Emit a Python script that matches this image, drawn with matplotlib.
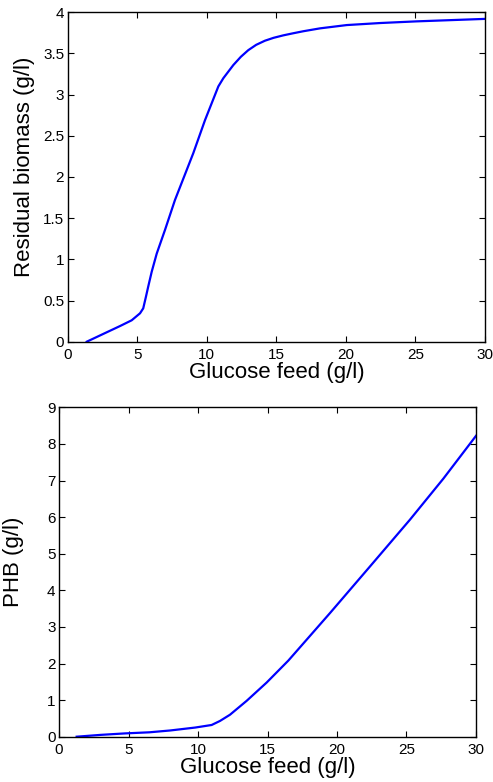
import numpy as np
import matplotlib.pyplot as plt

plt.rcParams['font.family'] = ['Liberation Sans', 'DejaVu Sans']

# residual biomass vs glucose feed
glc_top = [1.37, 2.5, 3.76, 4.6, 5.2, 5.43, 5.63, 5.79, 6.04, 6.4, 7.0, 7.71,
           9.03, 9.87, 10.83, 11.19, 11.91, 12.45, 12.98, 13.55, 14.18, 14.8,
           15.5, 16.2, 16.94, 18.14, 20.06, 22.5, 25.09, 30.0]
biomass = [0.0, 0.09, 0.19, 0.26, 0.345, 0.405, 0.55, 0.67, 0.85, 1.07, 1.36, 1.72,
           2.29, 2.69, 3.10, 3.20, 3.36, 3.46, 3.54, 3.605, 3.655, 3.69,
           3.72, 3.745, 3.77, 3.805, 3.845, 3.87, 3.89, 3.92]

# PHB vs glucose feed
glc_bot = [1.27, 3.0, 4.75, 6.5, 8.0, 9.8, 10.98, 11.58, 12.3, 13.5, 14.94,
           16.5, 19.5, 22.37, 25.25, 27.65, 30.0]
phb = [0.0, 0.05, 0.09, 0.12, 0.17, 0.25, 0.32, 0.43, 0.6, 0.98, 1.48,
       2.08, 3.38, 4.65, 5.93, 7.05, 8.22]

fig = plt.figure(figsize=(4.93, 7.82), dpi=100)
W, H = 493, 782

ax1 = fig.add_axes([67.7 / W, 1 - 341.7 / H, (485 - 67.7) / W, (341.7 - 12.3) / H])
ax2 = fig.add_axes([59 / W, 1 - 736.7 / H, (476 - 59) / W, (736.7 - 407.3) / H])

ax1.plot(glc_top, biomass, color='#0000ff', lw=1.6)
ax1.set_xlim(0, 30)
ax1.set_ylim(0, 4)
ax1.set_xticks(np.arange(0, 31, 5))
ax1.set_yticks(np.arange(0, 4.01, 0.5))
ax1.set_yticklabels(['0', '0.5', '1', '1.5', '2', '2.5', '3', '3.5', '4'])
ax1.set_xlabel('Glucose feed (g/l)', fontsize=16)
ax1.set_ylabel('Residual biomass (g/l)', fontsize=16)

ax2.plot(glc_bot, phb, color='#0000ff', lw=1.6)
ax2.set_xlim(0, 30)
ax2.set_ylim(0, 9)
ax2.set_xticks(np.arange(0, 31, 5))
ax2.set_yticks(np.arange(0, 10, 1))
ax2.set_xlabel('Glucose feed (g/l)', fontsize=16)
ax2.set_ylabel('PHB (g/l)', fontsize=16)

for ax in (ax1, ax2):
    ax.tick_params(direction='in', top=True, right=True, length=4, width=0.8,
                   labelsize=11)
    ax.tick_params(axis='x', pad=4.5)
    ax.tick_params(axis='y', pad=2.5)
    ax.xaxis.set_label_coords(0.5, -0.062)
    for s in ax.spines.values():
        s.set_linewidth(1.0)

ax1.yaxis.set_label_coords(-0.079, 0.53)
ax2.yaxis.set_label_coords(-0.084, 0.53)

fig.savefig('out.png', dpi=100)
